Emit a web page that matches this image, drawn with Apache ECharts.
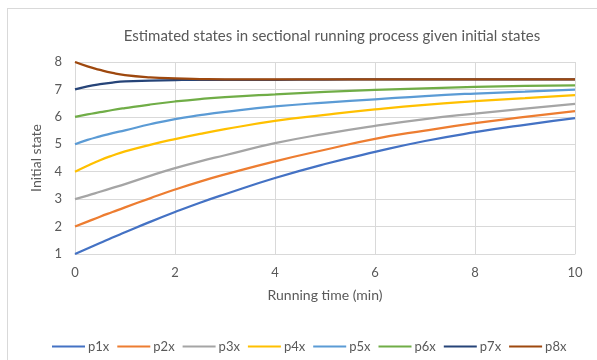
<!DOCTYPE html>
<html>
<head>
<meta charset="utf-8">
<script src="https://cdn.jsdelivr.net/npm/echarts@6/dist/echarts.min.js"></script>
<style>html,body{margin:0;padding:0;background:#fff}#c{width:597px;height:360px}</style>
</head>
<body>
<div id="c"></div>
<script>
const times = [0, 0.25, 0.5, 0.75, 1, 1.5, 2, 2.5, 3, 4, 5, 6, 7, 8, 9, 10];
const p1x = [1.00, 1.20, 1.40, 1.60, 1.79, 2.17, 2.53, 2.87, 3.18, 3.77, 4.28, 4.72, 5.12, 5.44, 5.71, 5.95];
const p2x = [2.00, 2.18, 2.36, 2.53, 2.70, 3.03, 3.35, 3.64, 3.90, 4.38, 4.80, 5.20, 5.50, 5.77, 6.00, 6.21];
const p3x = [3.00, 3.13, 3.27, 3.41, 3.55, 3.85, 4.13, 4.38, 4.60, 5.04, 5.38, 5.67, 5.92, 6.12, 6.30, 6.47];
const p4x = [4.00, 4.22, 4.42, 4.59, 4.74, 4.98, 5.19, 5.38, 5.55, 5.85, 6.07, 6.27, 6.44, 6.57, 6.68, 6.79];
const p5x = [5.00, 5.16, 5.29, 5.41, 5.51, 5.73, 5.92, 6.06, 6.18, 6.38, 6.52, 6.64, 6.76, 6.85, 6.92, 6.99];
const p6x = [6.00, 6.09, 6.17, 6.25, 6.32, 6.45, 6.56, 6.65, 6.72, 6.82, 6.91, 6.98, 7.04, 7.09, 7.13, 7.15];
const p7x = [7.00, 7.11, 7.19, 7.25, 7.29, 7.32, 7.34, 7.35, 7.35, 7.35, 7.36, 7.37, 7.37, 7.37, 7.37, 7.37];
const p8x = [8.00, 7.84, 7.71, 7.60, 7.52, 7.44, 7.40, 7.38, 7.37, 7.37, 7.37, 7.37, 7.37, 7.37, 7.37, 7.37];
const seriesNames = ['p1x', 'p2x', 'p3x', 'p4x', 'p5x', 'p6x', 'p7x', 'p8x'];
const seriesValues = [p1x, p2x, p3x, p4x, p5x, p6x, p7x, p8x];
const colors = ['#4472C4', '#ED7D31', '#A5A5A5', '#FFC000', '#5B9BD5', '#70AD47', '#264478', '#9E480E'];
const titleText = 'Estimated states in sectional running process given initial states';
const xName = 'Running time (min)';
const yName = 'Initial state';

const FONT = 'Lato';
const chart = echarts.init(document.getElementById('c'), null, {renderer: 'canvas'});
chart.setOption({
  animation: false,
  color: colors,
  title: {
    text: titleText, left: 327, top: 24, textAlign: 'center',
    textStyle: {fontFamily: FONT, fontSize: 15, fontWeight: 'normal', color: '#595959'}
  },
  legend: {
    left: 47, top: 335, itemWidth: 33, itemHeight: 10, itemGap: 8,
    icon: 'path://M0,4 L33,4 L33,6 L0,6 Z',
    textStyle: {fontFamily: FONT, fontSize: 13, color: '#595959', padding: [0, 0, 0, -2]},
    data: seriesNames
  },
  grid: {left: 75, right: 22, top: 62, bottom: 106, containLabel: false},
  xAxis: {
    type: 'value', min: 0, max: 10, interval: 2,
    name: xName, nameLocation: 'middle', nameGap: 34,
    nameTextStyle: {fontFamily: FONT, fontSize: 14, color: '#595959'},
    axisLine: {show: true, lineStyle: {color: '#D9D9D9', width: 1}},
    axisTick: {show: false},
    axisLabel: {fontFamily: FONT, fontSize: 13, color: '#595959', margin: 12},
    splitLine: {show: true, lineStyle: {color: '#D9D9D9', width: 1}}
  },
  yAxis: {
    type: 'value', min: 1, max: 8, interval: 1,
    name: yName, nameLocation: 'middle', nameGap: 28, nameRotate: 90,
    nameTextStyle: {fontFamily: FONT, fontSize: 14, color: '#595959'},
    axisLine: {show: true, lineStyle: {color: '#D9D9D9', width: 1}},
    axisTick: {show: false},
    axisLabel: {fontFamily: FONT, fontSize: 13, color: '#595959', margin: 13},
    splitLine: {show: true, lineStyle: {color: '#D9D9D9', width: 1}}
  },
  graphic: [
    {type: 'line', shape: {x1: 7, y1: 8.5, x2: 597, y2: 8.5}, style: {stroke: '#D9D9D9', lineWidth: 1}, silent: true},
    {type: 'line', shape: {x1: 7.5, y1: 8, x2: 7.5, y2: 360}, style: {stroke: '#D9D9D9', lineWidth: 1}, silent: true}
  ],
  series: seriesNames.map((n, i) => ({
    name: n, type: 'line', smooth: 0.5, showSymbol: false, symbol: 'none',
    lineStyle: {width: 2.25, color: colors[i]},
    data: times.map((t, j) => [t, seriesValues[i][j]])
  }))
});
</script>
</body>
</html>
